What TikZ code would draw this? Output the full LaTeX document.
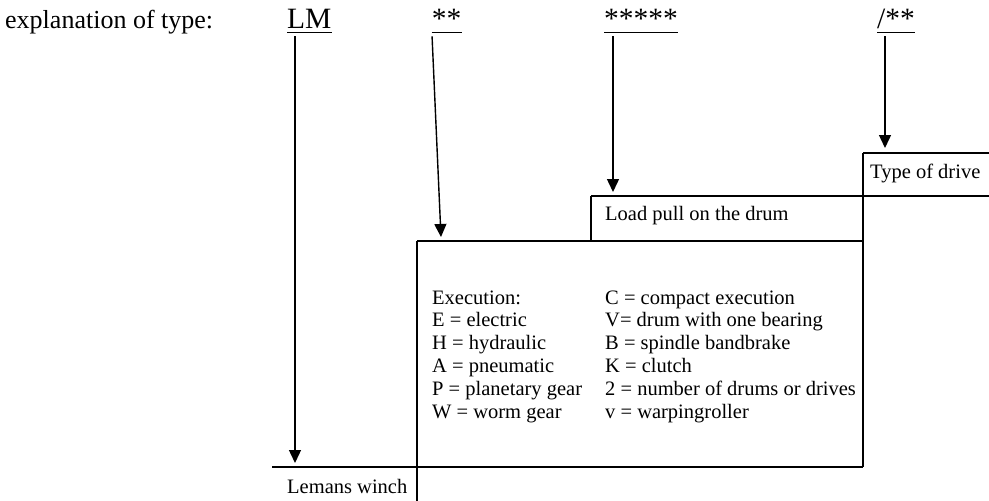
\documentclass[tikz,border=0pt]{standalone}
\usepackage{fontspec}
\setmainfont{Liberation Serif}
\usetikzlibrary{arrows.meta}

\tikzset{
    bigtext/.style={font=\fontsize{26}{30}\selectfont, inner sep=0pt, anchor=base west},
    fieldtext/.style={font=\fontsize{29.5}{33}\selectfont, inner sep=0pt, anchor=base west},
    smalltext/.style={font=\fontsize{20.5}{23}\selectfont, inner sep=0pt, anchor=base west},
    rule/.style={line width=1.4pt},
    pointer/.style={line width=1.4pt, shorten <=8pt, -{Triangle[width=12pt,length=13pt]}},
}

\begin{document}
\begin{tikzpicture}[x=1pt,y=-1pt]
        \useasboundingbox (0,0) rectangle (989,501);

        % Heading and the four fields of the type code
        \node[bigtext] (title) at (5,28.3) {explanation of type:};
        \node[fieldtext] (lm) at (287,28.3) {LM};
        \node[fieldtext] (two) at (431.7,28.3) {**};
        \node[fieldtext] (five) at (604,28.3) {*****};
        \node[fieldtext] (drive) at (877,28.3) {/**};

        % Underline the fields
        \foreach \f in {lm,two,five,drive}
            \draw[rule] ([yshift=-4pt]\f.base west) -- ([yshift=-4pt]\f.base east);

        % Where the arrows land
        \coordinate (lmEnd) at (295,463);
        \coordinate (twoEnd) at (441,237);
        \coordinate (fiveEnd) at (613,192);
        \coordinate (driveEnd) at (885,148);

        % Arrows from each field down to its box
        \draw[pointer] (lm.base -| lmEnd) -- (lmEnd);
        \draw[pointer] (two.base west) -- (twoEnd);
        \draw[pointer] (five.base -| fiveEnd) -- (fiveEnd);
        \draw[pointer] (drive.base -| driveEnd) -- (driveEnd);

        % Stepped boxes
        \draw[rule] (863,153) -- (989,153);
        \draw[rule] (863,153) -- (863,467);
        \draw[rule] (591,196) -- (989,196);
        \draw[rule] (591,196) -- (591,241);
        \draw[rule] (417,241) -- (863,241);
        \draw[rule] (417,241) -- (417,501);
        \draw[rule] (272,467) -- (863,467);

        % Box texts
        \node[smalltext] (drivetxt) at (870,178) {Type of drive};
        \node[smalltext] (pulltxt) at (605,220) {Load pull on the drum};
        \node[smalltext] (winchtxt) at (287,493) {Lemans winch};

        % Execution codes, left column
        \node[smalltext] (e1) at (432,304) {Execution:};
        \node[smalltext] (e2) at (432,326.9) {E = electric};
        \node[smalltext] (e3) at (432,349.8) {H = hydraulic};
        \node[smalltext] (e4) at (432,372.7) {A = pneumatic};
        \node[smalltext] (e5) at (432,395.6) {P = planetary gear};
        \node[smalltext] (e6) at (432,418.5) {W = worm gear};

        % Execution codes, right column
        \node[smalltext] (c1) at (605,304) {C = compact execution};
        \node[smalltext] (c2) at (605,326.9) {V= drum with one bearing};
        \node[smalltext] (c3) at (605,349.8) {B = spindle bandbrake};
        \node[smalltext] (c4) at (605,372.7) {K = clutch};
        \node[smalltext] (c5) at (605,395.6) {2 = number of drums or drives};
        \node[smalltext] (c6) at (605,418.5) {v = warpingroller};
    \end{tikzpicture}
\end{document}
